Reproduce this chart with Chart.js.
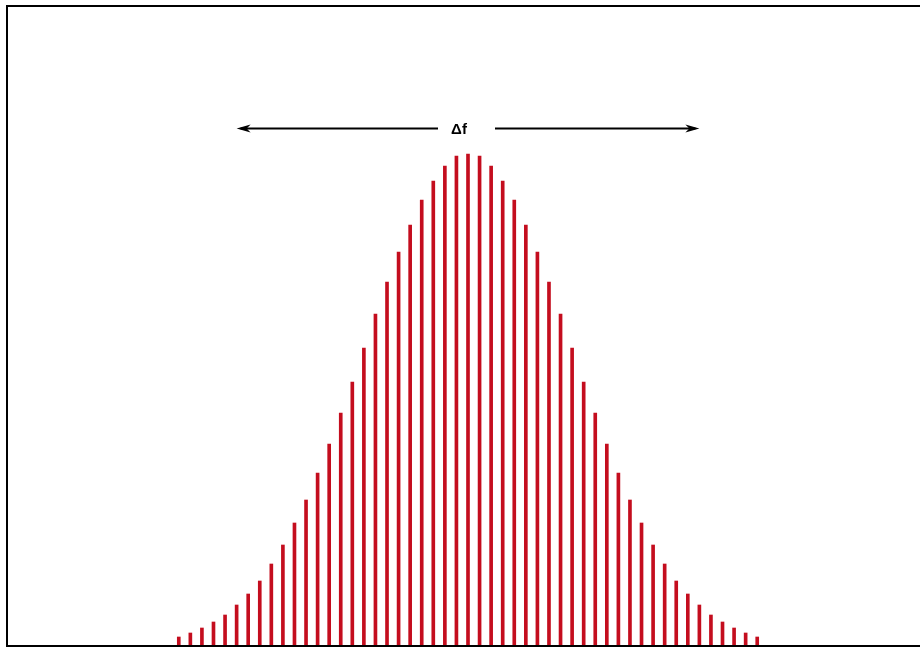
<!DOCTYPE html>
<html>
<head>
<meta charset="utf-8">
<script src="https://cdn.jsdelivr.net/npm/chart.js@4/dist/chart.umd.min.js"></script>
<style>
  html, body { margin: 0; padding: 0; background: #fff; }
  #wrap { width: 920px; height: 648px; position: relative; }
</style>
</head>
<body>
<div id="wrap"><canvas id="spectrum"></canvas></div>
<script>
// harmonic index relative to the carrier, -25 .. 25
const harmonics = [
  -25, -24, -23, -22, -21, -20, -19, -18, -17, -16, -15, -14, -13, -12, -11, -10, -9, -8, -7, -6, -5, -4, -3, -2, -1,
  0,
  1, 2, 3, 4, 5, 6, 7, 8, 9, 10, 11, 12, 13, 14, 15, 16, 17, 18, 19, 20, 21, 22, 23, 24, 25
];

// line amplitudes (arbitrary units)
const amplitudes = [
  10, 14, 19, 25, 32, 42, 53, 66, 83, 102, 124, 147, 174, 203, 234, 265, 299, 333, 365, 395, 422, 447, 466, 481, 491,
  493,
  491, 481, 466, 447, 422, 395, 365, 333, 299, 265, 234, 203, 174, 147, 124, 102, 83, 66, 53, 42, 32, 25, 19, 14, 10
];

const yMax = 642;

// bandwidth arrow: from/to line index and the level it sits at
const arrowFrom = 5;
const arrowTo = 45;
const arrowLevel = 519;
const arrowLabel = 'Δf';

// ---------- frame + bandwidth arrow ----------
const decorations = {
  id: 'decorations',
  afterDraw(chart) {
    const ctx = chart.ctx;
    const xs = chart.scales.x, ys = chart.scales.y;
    ctx.save();

    // frame (left, top, bottom)
    ctx.strokeStyle = '#000';
    ctx.lineWidth = 2;
    ctx.beginPath();
    ctx.moveTo(chart.width, 6);
    ctx.lineTo(7, 6);
    ctx.lineTo(7, chart.height - 2);
    ctx.lineTo(chart.width, chart.height - 2);
    ctx.stroke();

    // arrow
    const x1 = xs.getPixelForValue(arrowFrom);
    const x2 = xs.getPixelForValue(arrowTo);
    const y = Math.round(ys.getPixelForValue(arrowLevel)) + 0.5;
    const mid = xs.getPixelForValue(25);

    ctx.lineWidth = 2;
    ctx.beginPath();
    ctx.moveTo(x1 + 4, y);
    ctx.lineTo(mid - 30, y);
    ctx.moveTo(mid + 27, y);
    ctx.lineTo(x2 - 4, y);
    ctx.stroke();

    ctx.fillStyle = '#000';
    [[x1, 1], [x2, -1]].forEach(([x, d]) => {
      ctx.beginPath();
      ctx.moveTo(x, y);
      ctx.lineTo(x + d * 14, y - 4);
      ctx.lineTo(x + d * 10, y);
      ctx.lineTo(x + d * 14, y + 4);
      ctx.closePath();
      ctx.fill();
    });

    ctx.font = 'bold 15px "Liberation Sans", Arial, sans-serif';
    ctx.textAlign = 'center';
    ctx.textBaseline = 'middle';
    ctx.fillText(arrowLabel, mid - 9, y + 1);

    ctx.restore();
  }
};

new Chart(document.getElementById('spectrum'), {
  type: 'bar',
  data: {
    labels: harmonics,
    datasets: [{
      data: amplitudes,
      backgroundColor: '#c40d1e',
      barThickness: 3,
      borderWidth: 0
    }]
  },
  options: {
    responsive: true,
    maintainAspectRatio: false,
    animation: false,
    layout: { padding: { left: 173, right: 157, top: 5, bottom: 1 } },
    plugins: {
      legend: { display: false },
      tooltip: { enabled: false }
    },
    scales: {
      x: { display: false, offset: true },
      y: { display: false, min: 0, max: yMax }
    }
  },
  plugins: [decorations]
});
</script>
</body>
</html>
